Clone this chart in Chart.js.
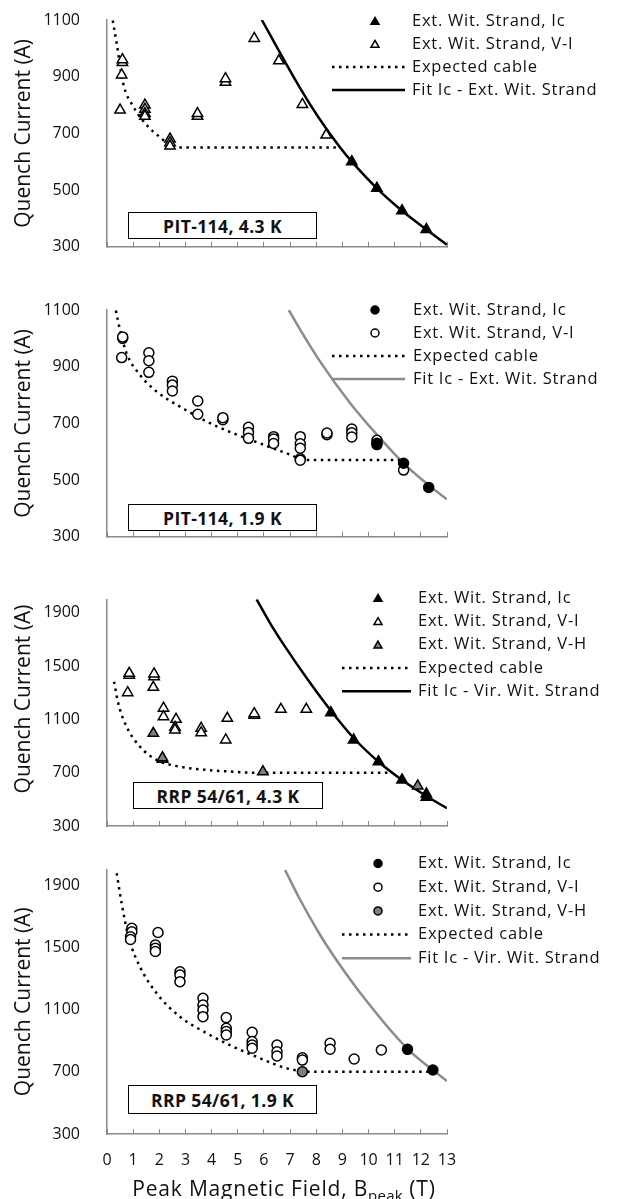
<!DOCTYPE html>
<html><head><meta charset="utf-8">
<script src="https://cdn.jsdelivr.net/npm/chart.js@4.4.1/dist/chart.umd.min.js"></script>
<style>
html,body{margin:0;padding:0;background:#fff;}
body{width:618px;height:1199px;position:relative;overflow:hidden;font-family:"Open Sans",sans-serif;color:#111;}
canvas{position:absolute;left:0;}
.tag{position:absolute;box-sizing:border-box;border:1.5px solid #000;background:#fff;font-weight:bold;font-size:17.5px;letter-spacing:0.4px;display:flex;align-items:center;justify-content:center;color:#111;}
#xtitle{position:absolute;left:0;width:568px;top:1174px;line-height:28px;text-align:center;font-size:21px;letter-spacing:0.8px;color:#111;white-space:nowrap;}
#xtitle sub{font-size:15px;vertical-align:-5px;line-height:0;letter-spacing:0.3px;}
</style></head><body>
<canvas id="c1" width="618" height="290" style="top:0px"></canvas>
<canvas id="c2" width="618" height="280" style="top:290px"></canvas>
<canvas id="c3" width="618" height="280" style="top:570px"></canvas>
<canvas id="c4" width="618" height="349" style="top:850px"></canvas>
<div class="tag" id="t1" style="left:128px;top:212px;width:189px;height:27px"></div>
<div class="tag" id="t2" style="left:128px;top:504px;width:189px;height:27px"></div>
<div class="tag" id="t3" style="left:133px;top:782px;width:190px;height:27px"></div>
<div class="tag" id="t4" style="left:128px;top:1085px;width:189px;height:29px"></div>
<div id="xtitle">Peak Magnetic Field, B<sub>peak</sub> (T)</div>
<script>
// ---------- tick labels / texts ----------
const xTicks = [0,1,2,3,4,5,6,7,8,9,10,11,12,13];
const yTicksPit = [300,500,700,900,1100];
const yTicksRrp = [300,700,1100,1500,1900];
const panelTags = ['PIT-114, 4.3 K','PIT-114, 1.9 K','RRP 54/61, 4.3 K','RRP 54/61, 1.9 K'];
const labelsExt = ['Ext. Wit. Strand, Ic','Ext. Wit. Strand, V-I','Expected cable','Fit Ic - Ext. Wit. Strand'];
const labelsVir = ['Ext. Wit. Strand, Ic','Ext. Wit. Strand, V-I','Ext. Wit. Strand, V-H','Expected cable','Fit Ic - Vir. Wit. Strand'];
const yTitle = 'Quench Current (A)';

// ---------- Panel 1: PIT-114, 4.3 K ----------
const p1IcB = [9.36, 10.32, 11.28, 12.21];
const p1IcI = [600, 506, 427, 361];
const p1ViB = [0.50, 0.56, 0.59, 0.59, 1.45, 1.45, 1.45, 1.45, 2.41, 2.41, 2.41, 3.46, 3.46, 4.53, 4.53, 5.63, 6.57, 7.47, 8.38];
const p1ViI = [782, 906, 950, 960, 800, 785, 770, 760, 680, 667, 655, 760, 770, 880, 893, 1035, 956, 802, 694];
const p1ExpB = [0.22, 0.37, 0.62, 1.01, 1.58, 2.22, 2.40, 8.79];
const p1ExpI = [1098, 1018, 876, 794, 723, 670, 650, 650];
const p1FitB = [5.92, 7.39, 8.09, 8.92, 9.36, 10.32, 11.28, 12.21, 13.0];
const p1FitI = [1100, 859, 756, 649, 600, 506, 427, 361, 307];

// ---------- Panel 2: PIT-114, 1.9 K ----------
const p2IcB = [10.32, 11.34, 12.30];
const p2IcI = [625, 559, 474];
const p2ViB = [0.56, 0.60, 0.60, 1.60, 1.60, 1.60, 2.50, 2.50, 2.50, 3.47, 3.47, 4.43, 4.43, 5.41, 5.41, 5.41, 6.37, 6.37, 6.37, 7.39, 7.39, 7.39, 7.39, 7.39, 8.41, 8.41, 9.36, 9.36, 9.36, 10.32, 10.32, 11.34];
const p2ViI = [932, 1000, 1005, 949, 921, 880, 849, 835, 814, 779, 732, 713, 720, 686, 668, 647, 653, 645, 629, 653, 628, 612, 575, 570, 660, 666, 680, 667, 652, 640, 630, 535];
const p2ExpB = [0.34, 0.50, 0.75, 1.26, 1.90, 2.79, 3.82, 4.83, 5.86, 6.88, 7.64, 11.21];
const p2ExpI = [1098, 1029, 947, 871, 812, 759, 706, 665, 629, 594, 571, 571];
const p2FitB = [6.95, 7.39, 8.15, 9.30, 10.32, 11.34, 12.30, 13.0];
const p2FitI = [1100, 1030, 918, 771, 660, 559, 482, 432];

// ---------- Panel 3: RRP 54/61, 4.3 K ----------
const p3IcB = [8.56, 9.43, 10.38, 11.28, 12.21, 12.21];
const p3IcI = [1150, 945, 782, 645, 540, 515];
const p3ViB = [0.79, 0.85, 0.85, 1.77, 1.80, 1.80, 2.16, 2.16, 2.64, 2.60, 2.60, 3.60, 3.60, 4.60, 4.54, 5.63, 5.63, 6.65, 7.62];
const p3ViI = [1300, 1430, 1445, 1340, 1420, 1440, 1183, 1120, 1100, 1040, 1020, 1033, 1000, 1108, 945, 1130, 1142, 1175, 1175];
const p3VhB = [1.77, 2.12, 2.12, 5.96, 11.88];
const p3VhI = [995, 800, 812, 707, 600];
const p3ExpB = [0.27, 0.43, 0.75, 1.26, 1.90, 2.79, 3.82, 4.83, 5.50, 10.77];
const p3ExpI = [1382, 1220, 1045, 895, 795, 745, 720, 707, 700, 700];
const p3FitB = [5.72, 6.24, 6.75, 7.77, 8.60, 9.43, 10.38, 11.28, 12.21, 13.0];
const p3FitI = [2000, 1820, 1662, 1372, 1155, 960, 782, 645, 525, 433];

// ---------- Panel 4: RRP 54/61, 1.9 K ----------
const p4IcB = [11.49, 12.46];
const p4IcI = [844, 711];
const p4ViB = [0.95, 0.95, 0.90, 0.90, 1.95, 1.85, 1.85, 1.85, 2.79, 2.79, 2.79, 3.67, 3.67, 3.67, 3.67, 4.56, 4.56, 4.56, 4.56, 5.55, 5.55, 5.55, 5.55, 6.50, 6.50, 6.50, 7.47, 7.47, 8.53, 8.53, 9.45, 10.49];
const p4ViI = [1622, 1600, 1568, 1550, 1595, 1515, 1494, 1473, 1343, 1322, 1279, 1172, 1129, 1097, 1054, 1048, 980, 958, 937, 954, 894, 872, 851, 872, 829, 801, 790, 775, 883, 845, 782, 840];
const p4VhB = [7.47];
const p4VhI = [700];
const p4ExpB = [0.37, 0.56, 0.82, 1.26, 1.90, 2.79, 3.82, 4.83, 5.86, 6.88, 7.77, 12.49];
const p4ExpI = [1976, 1783, 1568, 1375, 1204, 1054, 947, 861, 786, 722, 700, 700];
const p4FitB = [6.81, 7.39, 8.15, 8.66, 9.94, 11.47, 13.0];
const p4FitI = [1997, 1804, 1579, 1446, 1151, 851, 640];

// ---------- styling ----------
const FONT = '"Open Sans", sans-serif';
const AXIS = '#8a8a8a';
const TXT = '#111111';
const GRAYLINE = '#8c8c8c';
const pts = (xs, ys) => xs.map((x, i) => ({x: x, y: ys[i]}));

const sideLegend = {
  id: 'sideLegend',
  afterDraw(chart, args, o) {
    const ctx = chart.ctx;
    ctx.save();
    ctx.font = o.font;
    ctx.textBaseline = 'middle';
    ctx.textAlign = 'left';
    chart.data.datasets.forEach((ds, i) => {
      const y = o.y + i * o.step;
      ctx.save();
      if (ds.showLine) {
        ctx.beginPath();
        ctx.lineWidth = ds.borderWidth;
        ctx.strokeStyle = ds.borderColor;
        ctx.setLineDash(ds.borderDash || []);
        ctx.moveTo(o.x0, y); ctx.lineTo(o.x1, y); ctx.stroke();
      } else {
        ctx.fillStyle = ds.backgroundColor;
        ctx.strokeStyle = ds.borderColor;
        ctx.lineWidth = ds.borderWidth;
        const r = ds.pointStyle === 'circle' ? o.rc : o.rt;
        Chart.helpers.drawPoint(ctx, {pointStyle: ds.pointStyle, radius: r, borderWidth: ds.borderWidth, rotation: 0}, o.mx, ds.pointStyle === 'circle' ? y : y + 1);
      }
      ctx.restore();
      ctx.fillStyle = TXT;
      if ('letterSpacing' in ctx) ctx.letterSpacing = o.ls;
      ctx.fillText(ds.label, o.tx, y);
      if ('letterSpacing' in ctx) ctx.letterSpacing = '0px';
    });
    ctx.restore();
  }
};

function markerSet(label, data, style, fill) {
  return {label: label, data: data, pointStyle: style, backgroundColor: fill, borderColor: '#000',
    borderWidth: 1.5, pointRadius: style === 'circle' ? 5 : 6, pointHoverRadius: style === 'circle' ? 5 : 6, order: 1};
}
function lineSet(label, data, color, dashed) {
  return {label: label, data: data, showLine: true, pointRadius: 0, pointHoverRadius: 0,
    borderColor: color, backgroundColor: color, borderWidth: 2.5,
    borderDash: dashed ? [2.5, 4.5] : [], cubicInterpolationMode: 'monotone', fill: false, order: 5};
}

function makePanel(id, datasets, yMax, yTicks, p) {
  new Chart(document.getElementById(id), {
    type: 'scatter',
    data: {datasets: datasets},
    plugins: [sideLegend],
    options: {
      responsive: false, animation: false, devicePixelRatio: 1,
      layout: {padding: {left: 0, right: 171, top: p.top, bottom: p.bottom}},
      plugins: {
        legend: {display: false}, tooltip: {enabled: false},
        sideLegend: p.legend
      },
      scales: {
        x: {
          type: 'linear', min: 0, max: 13,
          afterBuildTicks: s => { s.ticks = xTicks.map(v => ({value: v})); },
          afterFit: s => { s.height = p.xh; },
          grid: {display: true, drawOnChartArea: false, drawTicks: true, tickLength: -5, color: AXIS, lineWidth: 1},
          border: {display: true, color: AXIS, width: 1.5},
          ticks: {display: p.xLabels, autoSkip: false, maxRotation: 0, padding: 22,
            color: TXT, font: {family: FONT, size: 16}, callback: v => String(v)}
        },
        y: {
          type: 'linear', min: 300, max: yMax,
          afterBuildTicks: s => { s.ticks = yTicks.map(v => ({value: v})); },
          afterFit: s => { s.width = 107; },
          grid: {display: true, drawOnChartArea: false, drawTicks: true, tickLength: 27, color: 'rgba(0,0,0,0)'},
          border: {display: true, color: AXIS, width: 1.5},
          ticks: {autoSkip: false, padding: 0, color: TXT, font: {family: FONT, size: 16}, callback: v => String(v)},
          title: {display: true, text: p.ytitle || yTitle, color: TXT, font: {family: FONT, size: 21}, padding: {top: 11, bottom: 0}}
        }
      }
    }
  });
}

const legA = {font: '16.5px ' + FONT, ls: '0.75px', y: 21, step: 23, mx: 375, rt: 4.6, rc: 4, x0: 332, x1: 405, tx: 412};

makePanel('c1', [
  markerSet(labelsExt[0], pts(p1IcB, p1IcI), 'triangle', '#000'),
  markerSet(labelsExt[1], pts(p1ViB, p1ViI), 'triangle', '#fff'),
  lineSet(labelsExt[2], pts(p1ExpB, p1ExpI), '#000', true),
  lineSet(labelsExt[3], pts(p1FitB, p1FitI), '#000', false)
], 1100, yTicksPit, {top: 20, bottom: 33.3, xh: 10, xLabels: false, legend: legA});

makePanel('c2', [
  markerSet(labelsExt[0], pts(p2IcB, p2IcI), 'circle', '#000'),
  markerSet(labelsExt[1], pts(p2ViB, p2ViI), 'circle', '#fff'),
  lineSet(labelsExt[2], pts(p2ExpB, p2ExpI), '#000', true),
  lineSet(labelsExt[3], pts(p2FitB, p2FitI), GRAYLINE, false)
], 1100, yTicksPit, {top: 20, bottom: 23.3, xh: 10, xLabels: false,
  legend: Object.assign({}, legA, {y: 20, tx: 413})});

const legB = {font: '16.5px ' + FONT, ls: '0.75px', y: 28, step: 23.3, mx: 378, rt: 4.6, rc: 4, x0: 342, x1: 411, tx: 418};

makePanel('c3', [
  markerSet(labelsVir[0], pts(p3IcB, p3IcI), 'triangle', '#000'),
  markerSet(labelsVir[1], pts(p3ViB, p3ViI), 'triangle', '#fff'),
  markerSet(labelsVir[2], pts(p3VhB, p3VhI), 'triangle', '#7f7f7f'),
  lineSet(labelsVir[3], pts(p3ExpB, p3ExpI), '#000', true),
  lineSet(labelsVir[4], pts(p3FitB, p3FitI), '#000', false)
], 2000, yTicksRrp, {top: 29.3, bottom: 14, xh: 10, xLabels: false, legend: legB,
  ytitle: '\u00a0\u00a0\u00a0\u00a0\u00a0' + yTitle});

makePanel('c4', [
  markerSet(labelsVir[0], pts(p4IcB, p4IcI), 'circle', '#000'),
  markerSet(labelsVir[1], pts(p4ViB, p4ViI), 'circle', '#fff'),
  markerSet(labelsVir[2], pts(p4VhB, p4VhI), 'circle', '#7f7f7f'),
  lineSet(labelsVir[3], pts(p4ExpB, p4ExpI), '#000', true),
  lineSet(labelsVir[4], pts(p4FitB, p4FitI), GRAYLINE, false)
], 2000, yTicksRrp, {top: 19.5, bottom: 5, xh: 60, xLabels: true,
  legend: Object.assign({}, legB, {y: 13.5, step: 23.7})});

panelTags.forEach((t, i) => { document.getElementById('t' + (i + 1)).textContent = t; });
</script>
</body></html>
